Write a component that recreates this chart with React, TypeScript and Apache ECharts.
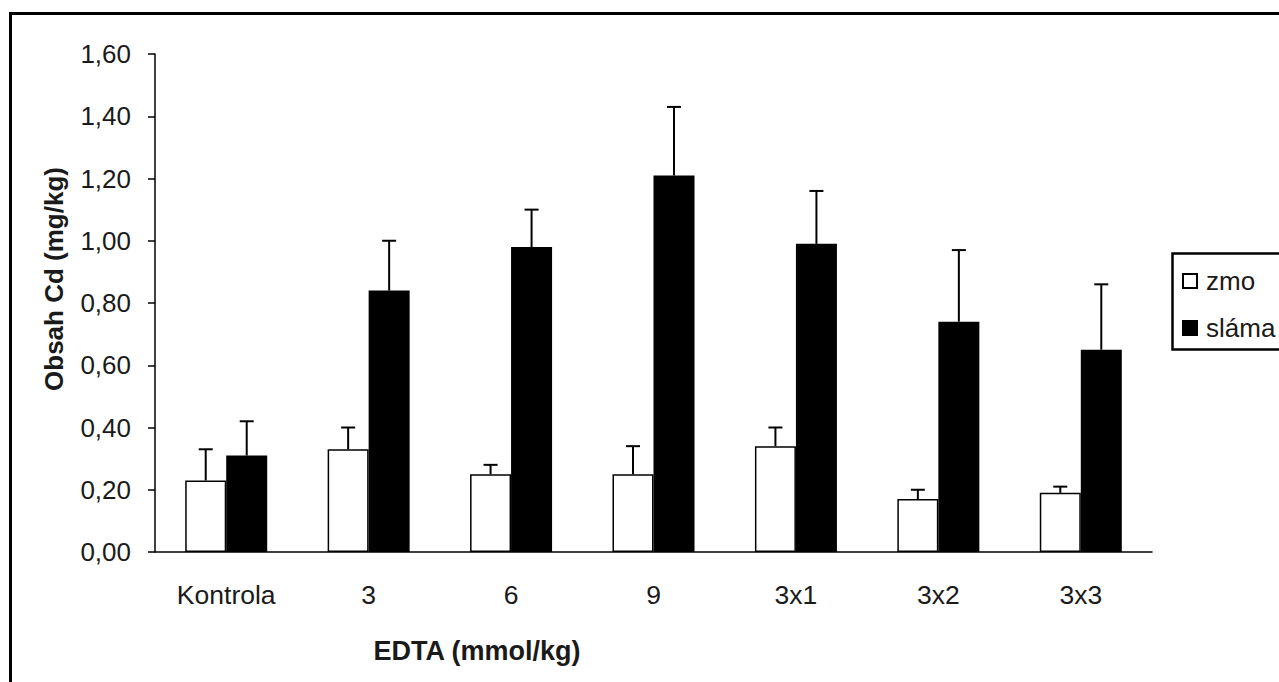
import React, { useEffect, useRef } from "react";
import * as echarts from "echarts";

const categories = ["Kontrola", "3", "6", "9", "3x1", "3x2", "3x3"];
const zmoValues = [0.23, 0.33, 0.25, 0.25, 0.34, 0.17, 0.19];
const zmoErrors = [0.10, 0.07, 0.03, 0.09, 0.06, 0.03, 0.02];
const slamaValues = [0.31, 0.84, 0.98, 1.21, 0.99, 0.74, 0.65];
const slamaErrors = [0.11, 0.16, 0.12, 0.22, 0.17, 0.23, 0.21];
const seriesNames = ["zmo", "sláma"];

const FONT = "'Liberation Sans', Arial, sans-serif";
const TEXT = "#1a1a1a";
const BAR_W = 41;

function errorSeries(values: number[], errors: number[], offset: number) {
  return {
    type: "custom",
    z: 5,
    silent: true,
    data: values.map((v, i) => [i, v, v + errors[i]]),
    encode: { x: 0, y: [1, 2] },
    renderItem: (_params: any, api: any) => {
      const idx = api.value(0);
      const p0 = api.coord([idx, api.value(1)]);
      const p1 = api.coord([idx, api.value(2)]);
      const x = p0[0] + offset;
      const style = { stroke: "#000", lineWidth: 2 };
      return {
        type: "group",
        children: [
          { type: "line", shape: { x1: x, y1: p0[1], x2: x, y2: p1[1] }, style },
          { type: "line", shape: { x1: x - 7, y1: p1[1], x2: x + 7, y2: p1[1] }, style },
        ],
      };
    },
  };
}

export default function App() {
  const ref = useRef<HTMLDivElement>(null);
  useEffect(() => {
    if (!ref.current) return;
    const chart = echarts.init(ref.current, undefined, { renderer: "svg" });
    chart.setOption({
      animation: false,
      backgroundColor: "#fff",
      grid: { left: 155, right: 127, top: 54, bottom: 130 },
      legend: {
        data: seriesNames,
        orient: "vertical",
        left: 1182,
        top: 268,
        padding: 0,
        icon: "rect",
        itemWidth: 14,
        itemHeight: 14,
        itemGap: 21,
        textStyle: {
          fontFamily: FONT,
          fontSize: 26,
          lineHeight: 26,
          color: TEXT,
          padding: [0, 0, 0, 4],
        },
      },
      xAxis: {
        type: "category",
        data: categories,
        axisLine: { lineStyle: { color: "#000", width: 1.5 } },
        axisTick: { length: 10, lineStyle: { color: "#000", width: 1.5 } },
        axisLabel: {
          fontFamily: FONT,
          fontSize: 26.5,
          color: TEXT,
          margin: 29,
        },
      },
      yAxis: {
        type: "value",
        min: 0,
        max: 1.6,
        interval: 0.2,
        splitLine: { show: false },
        axisLine: { show: true, lineStyle: { color: "#000", width: 1.5 } },
        axisTick: { show: true, length: 7, lineStyle: { color: "#000", width: 1.5 } },
        axisLabel: {
          fontFamily: FONT,
          fontSize: 26,
          color: TEXT,
          margin: 24,
          formatter: (v: number) => v.toFixed(2).replace(".", ","),
        },
      },
      graphic: [
        {
          type: "rect",
          shape: { x: 10.5, y: 13.5, width: 1400, height: 800 },
          style: { fill: "none", stroke: "#000", lineWidth: 3 },
          silent: true,
          z: 100,
        },
        {
          type: "rect",
          shape: { x: 1172.5, y: 253.5, width: 200, height: 96 },
          style: { fill: "none", stroke: "#000", lineWidth: 2.5 },
          silent: true,
          z: 100,
        },
        {
          type: "text",
          x: 477,
          y: 651,
          style: {
            text: "EDTA (mmol/kg)",
            fontFamily: FONT,
            fontSize: 27,
            fontWeight: "bold",
            fill: TEXT,
            align: "center",
            verticalAlign: "middle",
          },
        },
        {
          type: "text",
          x: 54,
          y: 279,
          rotation: Math.PI / 2,
          style: {
            text: "Obsah Cd (mg/kg)",
            fontFamily: FONT,
            fontSize: 26,
            fontWeight: "bold",
            fill: TEXT,
            align: "center",
            verticalAlign: "middle",
          },
        },
      ],
      series: [
        {
          name: seriesNames[0],
          type: "bar",
          data: zmoValues,
          barWidth: BAR_W,
          barGap: "0%",
          itemStyle: { color: "#fff", borderColor: "#000", borderWidth: 1.5 },
        },
        {
          name: seriesNames[1],
          type: "bar",
          data: slamaValues,
          barWidth: BAR_W,
          barGap: "0%",
          itemStyle: { color: "#000", borderColor: "#000", borderWidth: 1.5 },
        },
        errorSeries(zmoValues, zmoErrors, -BAR_W / 2),
        errorSeries(slamaValues, slamaErrors, BAR_W / 2),
      ],
    });
    return () => chart.dispose();
  }, []);
  return (
    <div
      ref={ref}
      style={{ position: "fixed", left: 0, top: 0, width: 1279, height: 682 }}
    />
  );
}
